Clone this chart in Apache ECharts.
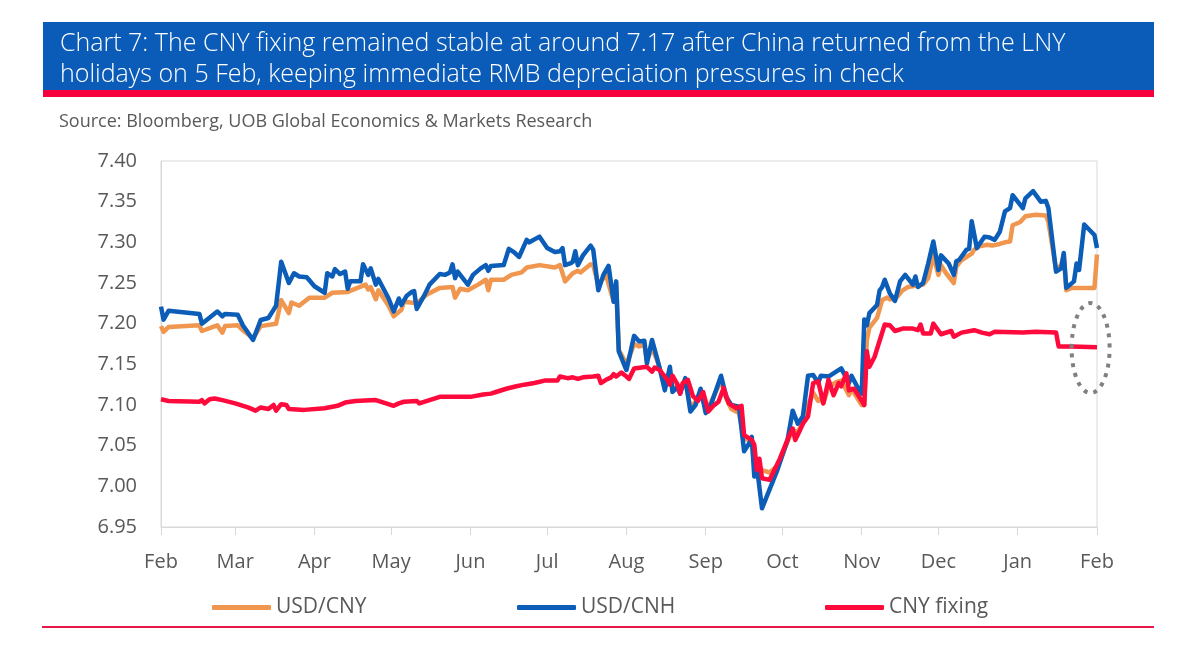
<!DOCTYPE html>
<html>
<head>
<meta charset="utf-8">
<script src="https://cdn.jsdelivr.net/npm/echarts@6/dist/echarts.min.js"></script>
<style>
html,body{margin:0;padding:0;background:#fff;}
#chart{width:1200px;height:648px;}
</style>
</head>
<body>
<div id="chart"></div>
<script>
const titleLines = [
  'Chart 7: The CNY fixing remained stable at around 7.17 after China returned from the LNY',
  'holidays on 5 Feb, keeping immediate RMB depreciation pressures in check'
];
const sourceText = 'Source: Bloomberg, UOB Global Economics & Markets Research';
const seriesNames = ['USD/CNY', 'USD/CNH', 'CNY fixing'];
const monthLabels = ['Jan','Feb','Mar','Apr','May','Jun','Jul','Aug','Sep','Oct','Nov','Dec'];
const xStart = '2024-02-01';
const xEnd = '2025-02-01';
const yMin = 6.95, yMax = 7.40, yStep = 0.05;
const highlightPoint = ['2025-01-29 12:00', 7.17];

const usdCny = [
['2024-02-01',7.197],['2024-02-02',7.190],['2024-02-04',7.196],['2024-02-16',7.198],['2024-02-17',7.191],['2024-02-23',7.198],['2024-02-25',7.189],['2024-02-26',7.197],['2024-03-02',7.198],['2024-03-04',7.192],['2024-03-08',7.182],['2024-03-11',7.197],['2024-03-17',7.200],['2024-03-19',7.229],['2024-03-22',7.213],['2024-03-23',7.226],['2024-03-26',7.222],['2024-03-30',7.232],['2024-04-05',7.232],['2024-04-08',7.238],['2024-04-14',7.239],['2024-04-21',7.248],['2024-04-22',7.242],['2024-04-23',7.245],['2024-04-25',7.230],['2024-04-26',7.241],['2024-04-30',7.222],['2024-05-02',7.209],['2024-05-05',7.217],['2024-05-06',7.227],['2024-05-11',7.225],['2024-05-15',7.236],['2024-05-20',7.244],['2024-05-25',7.245],['2024-05-26',7.232],['2024-05-28',7.243],['2024-05-31',7.241],['2024-06-04',7.248],['2024-06-07',7.254],['2024-06-08',7.241],['2024-06-09',7.254],['2024-06-14',7.254],['2024-06-17',7.260],['2024-06-21',7.263],['2024-06-23',7.269],['2024-06-28',7.272],['2024-07-04',7.269],['2024-07-06',7.272],['2024-07-08',7.252],['2024-07-11',7.262],['2024-07-13',7.265],['2024-07-14',7.263],['2024-07-18',7.273],['2024-07-19',7.272],['2024-07-21',7.248],['2024-07-24',7.260],['2024-07-27',7.227],['2024-07-28',7.245],['2024-07-29',7.168],['2024-08-01',7.150],['2024-08-04',7.175],['2024-08-06',7.172],['2024-08-08',7.174],['2024-08-09',7.155],['2024-08-11',7.170],['2024-08-13',7.155],['2024-08-14',7.145],['2024-08-16',7.125],['2024-08-18',7.142],['2024-08-19',7.120],['2024-08-21',7.124],['2024-08-22',7.117],['2024-08-24',7.130],['2024-08-26',7.097],['2024-08-28',7.104],['2024-08-30',7.117],['2024-09-01',7.095],['2024-09-03',7.103],['2024-09-07',7.130],['2024-09-09',7.108],['2024-09-11',7.095],['2024-09-14',7.090],['2024-09-16',7.058],['2024-09-18',7.058],['2024-09-19',7.055],['2024-09-20',7.025],['2024-09-21',7.030],['2024-09-23',7.020],['2024-09-26',7.017],['2024-09-29',7.025],['2024-10-03',7.055],['2024-10-05',7.070],['2024-10-07',7.066],['2024-10-09',7.080],['2024-10-11',7.100],['2024-10-13',7.115],['2024-10-15',7.105],['2024-10-16',7.108],['2024-10-17',7.102],['2024-10-19',7.122],['2024-10-22',7.128],['2024-10-24',7.130],['2024-10-27',7.112],['2024-10-28',7.120],['2024-10-31',7.105],['2024-11-01',7.100],['2024-11-02',7.100],['2024-11-03',7.180],['2024-11-04',7.195],['2024-11-07',7.207],['2024-11-09',7.229],['2024-11-11',7.232],['2024-11-12',7.230],['2024-11-14',7.230],['2024-11-17',7.241],['2024-11-19',7.245],['2024-11-25',7.248],['2024-11-27',7.256],['2024-11-29',7.284],['2024-12-01',7.260],['2024-12-02',7.272],['2024-12-04',7.262],['2024-12-07',7.250],['2024-12-08',7.270],['2024-12-10',7.278],['2024-12-14',7.286],['2024-12-15',7.291],['2024-12-17',7.295],['2024-12-20',7.297],['2024-12-22',7.296],['2024-12-25',7.298],['2024-12-27',7.300],['2024-12-29',7.301],['2024-12-30',7.321],['2025-01-02',7.325],['2025-01-04',7.332],['2025-01-08',7.334],['2025-01-12',7.333],['2025-01-13',7.325],['2025-01-16',7.266],['2025-01-18',7.272],['2025-01-19',7.284],['2025-01-20',7.241],['2025-01-22',7.244],['2025-01-31',7.244],['2025-02-01',7.285]
];

const usdCnh = [
['2024-02-01',7.221],['2024-02-02',7.205],['2024-02-04',7.216],['2024-02-16',7.212],['2024-02-17',7.200],['2024-02-23',7.215],['2024-02-25',7.209],['2024-02-26',7.212],['2024-03-02',7.211],['2024-03-04',7.198],['2024-03-08',7.180],['2024-03-11',7.2045],['2024-03-14',7.207],['2024-03-16',7.217],['2024-03-17',7.222],['2024-03-19',7.276],['2024-03-22',7.250],['2024-03-24',7.262],['2024-03-26',7.258],['2024-03-29',7.257],['2024-04-01',7.246],['2024-04-05',7.238],['2024-04-06',7.262],['2024-04-08',7.258],['2024-04-09',7.267],['2024-04-11',7.261],['2024-04-13',7.264],['2024-04-14',7.243],['2024-04-15',7.252],['2024-04-19',7.252],['2024-04-20',7.273],['2024-04-22',7.260],['2024-04-23',7.268],['2024-04-25',7.248],['2024-04-26',7.255],['2024-04-30',7.231],['2024-05-02',7.215],['2024-05-04',7.231],['2024-05-05',7.223],['2024-05-07',7.234],['2024-05-09',7.239],['2024-05-10',7.240],['2024-05-11',7.218],['2024-05-14',7.235],['2024-05-16',7.248],['2024-05-20',7.261],['2024-05-22',7.260],['2024-05-24',7.263],['2024-05-25',7.273],['2024-05-26',7.256],['2024-05-27',7.264],['2024-05-31',7.248],['2024-06-02',7.260],['2024-06-05',7.268],['2024-06-07',7.272],['2024-06-08',7.265],['2024-06-09',7.271],['2024-06-14',7.272],['2024-06-16',7.292],['2024-06-18',7.288],['2024-06-20',7.282],['2024-06-23',7.303],['2024-06-24',7.300],['2024-06-28',7.307],['2024-07-01',7.293],['2024-07-04',7.288],['2024-07-06',7.289],['2024-07-07',7.293],['2024-07-08',7.272],['2024-07-10',7.274],['2024-07-11',7.276],['2024-07-12',7.289],['2024-07-13',7.272],['2024-07-15',7.284],['2024-07-18',7.296],['2024-07-19',7.291],['2024-07-21',7.241],['2024-07-23',7.260],['2024-07-25',7.271],['2024-07-27',7.227],['2024-07-28',7.252],['2024-07-29',7.166],['2024-08-01',7.143],['2024-08-04',7.185],['2024-08-06',7.178],['2024-08-08',7.179],['2024-08-09',7.151],['2024-08-11',7.180],['2024-08-13',7.157],['2024-08-14',7.145],['2024-08-16',7.118],['2024-08-18',7.147],['2024-08-19',7.116],['2024-08-21',7.122],['2024-08-22',7.114],['2024-08-24',7.133],['2024-08-26',7.092],['2024-08-28',7.100],['2024-08-30',7.120],['2024-09-01',7.090],['2024-09-03',7.100],['2024-09-07',7.136],['2024-09-09',7.110],['2024-09-11',7.100],['2024-09-14',7.098],['2024-09-16',7.043],['2024-09-18',7.053],['2024-09-19',7.061],['2024-09-20',7.012],['2024-09-21',7.024],['2024-09-23',6.973],['2024-09-29',7.020],['2024-10-03',7.057],['2024-10-05',7.093],['2024-10-07',7.077],['2024-10-09',7.086],['2024-10-11',7.136],['2024-10-13',7.137],['2024-10-15',7.127],['2024-10-16',7.136],['2024-10-19',7.135],['2024-10-22',7.141],['2024-10-24',7.145],['2024-10-27',7.127],['2024-10-28',7.136],['2024-10-31',7.118],['2024-11-01',7.114],['2024-11-02',7.205],['2024-11-03',7.198],['2024-11-04',7.213],['2024-11-07',7.223],['2024-11-08',7.241],['2024-11-09',7.245],['2024-11-10',7.254],['2024-11-12',7.237],['2024-11-14',7.228],['2024-11-16',7.252],['2024-11-18',7.260],['2024-11-21',7.248],['2024-11-22',7.258],['2024-11-23',7.245],['2024-11-25',7.250],['2024-11-27',7.274],['2024-11-29',7.301],['2024-12-01',7.266],['2024-12-02',7.284],['2024-12-05',7.274],['2024-12-07',7.260],['2024-12-08',7.277],['2024-12-09',7.278],['2024-12-12',7.291],['2024-12-13',7.292],['2024-12-14',7.326],['2024-12-16',7.293],['2024-12-19',7.307],['2024-12-21',7.306],['2024-12-23',7.303],['2024-12-25',7.313],['2024-12-27',7.338],['2024-12-29',7.342],['2024-12-30',7.358],['2025-01-03',7.342],['2025-01-04',7.354],['2025-01-07',7.363],['2025-01-10',7.350],['2025-01-12',7.351],['2025-01-13',7.342],['2025-01-16',7.264],['2025-01-18',7.268],['2025-01-19',7.287],['2025-01-20',7.244],['2025-01-23',7.252],['2025-01-24',7.274],['2025-01-25',7.266],['2025-01-27',7.322],['2025-01-31',7.309],['2025-02-01',7.293]
];

const cnyFixing = [
['2024-02-01',7.107],['2024-02-04',7.105],['2024-02-16',7.104],['2024-02-17',7.106],['2024-02-18',7.102],['2024-02-20',7.107],['2024-02-22',7.108],['2024-02-25',7.106],['2024-03-01',7.102],['2024-03-06',7.097],['2024-03-09',7.093],['2024-03-11',7.097],['2024-03-14',7.095],['2024-03-16',7.100],['2024-03-17',7.093],['2024-03-19',7.101],['2024-03-21',7.100],['2024-03-22',7.095],['2024-03-28',7.094],['2024-04-05',7.096],['2024-04-10',7.099],['2024-04-13',7.103],['2024-04-17',7.105],['2024-04-25',7.106],['2024-04-29',7.102],['2024-05-02',7.099],['2024-05-04',7.102],['2024-05-06',7.104],['2024-05-11',7.105],['2024-05-12',7.102],['2024-05-16',7.106],['2024-05-20',7.110],['2024-06-01',7.110],['2024-06-06',7.113],['2024-06-09',7.114],['2024-06-11',7.116],['2024-06-15',7.120],['2024-06-19',7.123],['2024-06-22',7.125],['2024-06-26',7.127],['2024-06-30',7.130],['2024-07-05',7.130],['2024-07-06',7.135],['2024-07-09',7.133],['2024-07-11',7.134],['2024-07-13',7.132],['2024-07-15',7.134],['2024-07-19',7.135],['2024-07-21',7.136],['2024-07-22',7.127],['2024-07-24',7.131],['2024-07-26',7.134],['2024-07-27',7.138],['2024-07-28',7.135],['2024-07-30',7.140],['2024-08-01',7.135],['2024-08-02',7.132],['2024-08-04',7.145],['2024-08-09',7.147],['2024-08-11',7.141],['2024-08-12',7.146],['2024-08-14',7.143],['2024-08-17',7.131],['2024-08-18',7.125],['2024-08-19',7.136],['2024-08-21',7.125],['2024-08-22',7.114],['2024-08-23',7.127],['2024-08-25',7.131],['2024-08-27',7.111],['2024-08-29',7.105],['2024-08-31',7.116],['2024-09-02',7.092],['2024-09-04',7.099],['2024-09-06',7.104],['2024-09-08',7.121],['2024-09-10',7.102],['2024-09-13',7.096],['2024-09-15',7.099],['2024-09-16',7.063],['2024-09-19',7.057],['2024-09-20',7.051],['2024-09-21',7.020],['2024-09-22',7.034],['2024-09-23',7.010],['2024-09-26',7.008],['2024-09-30',7.034],['2024-10-04',7.065],['2024-10-05',7.071],['2024-10-06',7.057],['2024-10-08',7.070],['2024-10-09',7.077],['2024-10-11',7.086],['2024-10-13',7.127],['2024-10-15',7.129],['2024-10-17',7.102],['2024-10-19',7.131],['2024-10-21',7.112],['2024-10-23',7.127],['2024-10-24',7.123],['2024-10-26',7.139],['2024-10-27',7.118],['2024-10-29',7.120],['2024-10-31',7.110],['2024-11-02',7.100],['2024-11-03',7.166],['2024-11-04',7.147],['2024-11-06',7.159],['2024-11-10',7.199],['2024-11-12',7.198],['2024-11-14',7.191],['2024-11-17',7.194],['2024-11-21',7.194],['2024-11-23',7.192],['2024-11-24',7.199],['2024-11-25',7.188],['2024-11-28',7.188],['2024-11-29',7.200],['2024-12-02',7.187],['2024-12-06',7.191],['2024-12-07',7.184],['2024-12-10',7.189],['2024-12-15',7.192],['2024-12-18',7.189],['2024-12-21',7.187],['2024-12-23',7.190],['2025-01-03',7.189],['2025-01-08',7.190],['2025-01-16',7.189],['2025-01-17',7.172],['2025-01-22',7.172],['2025-02-01',7.171]
];

const colors = ['#F0964F', '#0B5DB7', '#FF0A3C'];
const FONT = '"Open Sans"';
const chart = echarts.init(document.getElementById('chart'), null, {renderer: 'canvas'});

function parseD(s){ const p = s.split(/[- :]/).map(Number); return new Date(p[0], p[1]-1, p[2], p[3]||0, p[4]||0).getTime(); }

const legendLefts = [207, 512, 820];

const option = {
  animation: false,
  backgroundColor: '#ffffff',
  grid: {left: 161, right: 103, top: 161, bottom: 121, show: true, borderColor: '#d9d9d9', borderWidth: 1, backgroundColor: 'transparent'},
  legend: seriesNames.map((n, i) => ({
    data: [n], left: legendLefts[i], top: 592, icon: 'roundRect', itemWidth: 59, itemHeight: 5,
    textStyle: {fontFamily: FONT, fontSize: 21, color: '#595959'}, selectedMode: false
  })),
  xAxis: {
    type: 'time',
    min: parseD(xStart), max: parseD(xEnd),
    minInterval: 28 * 86400000, maxInterval: 31 * 86400000,
    axisLine: {show: true, lineStyle: {color: '#d9d9d9', width: 1}},
    axisTick: {show: true, length: 8, lineStyle: {color: '#d9d9d9'}},
    splitLine: {show: false},
    axisLabel: {
      fontFamily: FONT, fontSize: 20, color: '#595959', margin: 25,
      showMinLabel: true, showMaxLabel: true, hideOverlap: false,
      formatter: (v) => monthLabels[new Date(v).getMonth()]
    }
  },
  yAxis: {
    type: 'value', min: yMin, max: yMax, interval: yStep,
    axisLine: {show: true, lineStyle: {color: '#d9d9d9'}},
    axisTick: {show: false},
    splitLine: {show: false},
    axisLabel: {fontFamily: FONT, fontSize: 20, color: '#595959', margin: 24, formatter: (v) => v.toFixed(2)}
  },
  series: [usdCny, usdCnh, cnyFixing].map((d, i) => ({
    name: seriesNames[i], type: 'line', showSymbol: false, symbol: 'none',
    data: d.map(p => [parseD(p[0]), p[1]]),
    lineStyle: {width: 4.5, color: colors[i], join: 'round'},
    itemStyle: {color: colors[i]},
    z: 2 + i
  })),
  graphic: [
    {type: 'rect', left: 43, top: 22, shape: {width: 1111, height: 68}, style: {fill: '#0B5CB8'}, z: 10},
    {type: 'rect', left: 43, top: 90, shape: {width: 1111, height: 7}, style: {fill: '#F5003C'}, z: 10},
    {type: 'text', left: 60, top: 31, style: {text: titleLines[0], fill: '#ffffff', font: '300 25px ' + FONT}, z: 11},
    {type: 'text', left: 60, top: 62, style: {text: titleLines[1], fill: '#ffffff', font: '300 25px ' + FONT}, z: 11},
    {type: 'text', left: 59, top: 113, style: {text: sourceText, fill: '#595959', font: '18px ' + FONT}, z: 11},
    {type: 'rect', left: 42, top: 626, shape: {width: 1112, height: 2}, style: {fill: '#E8174A'}, z: 10}
  ]
};
chart.setOption(option);

const c = chart.convertToPixel({gridIndex: 0}, [parseD(highlightPoint[0]), highlightPoint[1]]);
chart.setOption({
  graphic: option.graphic.concat([{
    type: 'ellipse', shape: {cx: c[0], cy: c[1], rx: 19, ry: 45},
    style: {fill: 'none', stroke: '#808080', lineWidth: 4, lineDash: [4, 6]}, z: 12
  }])
});
</script>
</body>
</html>
